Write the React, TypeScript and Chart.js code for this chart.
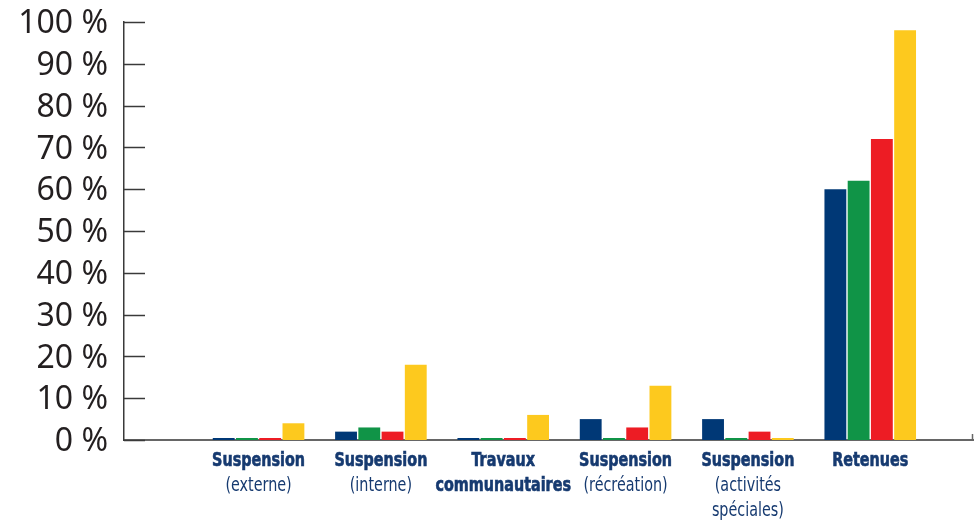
import React, { useEffect, useRef } from "react";
import { Chart, registerables } from "chart.js";

Chart.register(...registerables);

const CATEGORY_LINES: string[][] = [
  ["Suspension", "(externe)"],
  ["Suspension", "(interne)"],
  ["Travaux", "communautaires"],
  ["Suspension", "(récréation)"],
  ["Suspension", "(activités", "spéciales)"],
  ["Retenues"],
];
const BOLD_LINE_COUNT = [1, 1, 2, 1, 1, 1];

const SERIES_NAMES = ["Série 1", "Série 2", "Série 3", "Série 4"];
const SERIES_BLUE = [0, 2, 0, 5, 5, 60];
const SERIES_GREEN = [0, 3, 0, 0, 0, 62];
const SERIES_RED = [0, 2, 0, 3, 2, 72];
const SERIES_YELLOW = [4, 18, 6, 13, 0, 98];
const SERIES_COLORS = ["#003876", "#109447", "#ed1c24", "#fdc91e"];

const Y_TICKS = [0, 10, 20, 30, 40, 50, 60, 70, 80, 90, 100];

const LABEL_FONT = '"DejaVu Sans Condensed", "DejaVu Sans", sans-serif';
const LABEL_SQUEEZE = 0.84;

const decorPlugin = {
  id: "decor",
  afterDraw(chart: any) {
    const { ctx, chartArea, scales } = chart;
    const y = scales.y;
    const x = scales.x;
    ctx.save();
    // inward y ticks
    ctx.strokeStyle = "#3a3a3a";
    ctx.lineWidth = 1.5;
    for (const t of Y_TICKS) {
      const py = Math.round(y.getPixelForValue(t)) + 0.5;
      ctx.beginPath();
      ctx.moveTo(chartArea.left, py);
      ctx.lineTo(chartArea.left + 21, py);
      ctx.stroke();
    }
    // small tick at right end of x axis
    ctx.strokeStyle = "#666";
    ctx.beginPath();
    ctx.moveTo(chartArea.right - 0.5, chartArea.bottom);
    ctx.lineTo(chartArea.right - 0.5, chartArea.bottom - 6);
    ctx.stroke();

    // category labels
    ctx.fillStyle = "#163a70";
    ctx.strokeStyle = "#163a70";
    ctx.textAlign = "center";
    ctx.textBaseline = "alphabetic";
    CATEGORY_LINES.forEach((lines, i) => {
      const cx = x.getPixelForValue(i + 1);
      lines.forEach((line, j) => {
        const bold = j < BOLD_LINE_COUNT[i];
        ctx.save();
        ctx.font = `${bold ? "bold " : ""}19px ${LABEL_FONT}`;
        ctx.translate(cx, chartArea.bottom + 26 + j * 25);
        ctx.scale(LABEL_SQUEEZE, 1);
        ctx.fillText(line, 0, 0);
        if (bold) {
          ctx.lineWidth = 0.6;
          ctx.strokeText(line, 0, 0);
        }
        ctx.restore();
      });
    });
    ctx.restore();
  },
};

export default function App() {
  const canvasRef = useRef<HTMLCanvasElement | null>(null);

  useEffect(() => {
    if (!canvasRef.current) return;
    const seriesValues = [SERIES_BLUE, SERIES_GREEN, SERIES_RED, SERIES_YELLOW];
    const chart = new Chart(canvasRef.current, {
      type: "bar",
      data: {
        datasets: seriesValues.map((vals, s) => ({
          label: SERIES_NAMES[s],
          data: vals.map((v, i) => ({ x: i + 1, y: v })),
          backgroundColor: SERIES_COLORS[s],
          borderWidth: 0,
          minBarLength: 2,
          categoryPercentage: 0.76,
          barPercentage: 0.94,
        })),
      },
      options: {
        animation: false,
        responsive: true,
        maintainAspectRatio: false,
        layout: { padding: { top: 22, right: 1, left: 0, bottom: 0 } },
        plugins: {
          legend: { display: false },
          tooltip: { enabled: false },
        },
        scales: {
          x: {
            type: "linear",
            offset: false,
            min: -0.1,
            max: 6.84,
            grid: { display: false, drawTicks: false },
            border: { display: true, color: "#666", width: 2 },
            ticks: { display: false },
            afterBuildTicks: (scale: any) => {
              scale.ticks = CATEGORY_LINES.map((_, i) => ({ value: i + 1 }));
            },
            afterFit: (scale: any) => {
              scale.height = 82;
              scale.paddingLeft = 0;
              scale.paddingRight = 0;
              scale.paddingTop = 0;
              scale.paddingBottom = 0;
            },
          },
          y: {
            min: 0,
            max: 100,
            grid: { display: false, drawTicks: false },
            border: { display: true, color: "#3a3a3a", width: 1.5 },
            ticks: {
              stepSize: 10,
              padding: 16,
              labelOffset: 2,
              color: "#231f20",
              font: { family: '"Noto Sans", "Open Sans", sans-serif', size: 32 },
              callback: (v: any) => `${v} %`,
            },
            afterFit: (scale: any) => {
              scale.width = 124;
              scale.paddingLeft = 0;
              scale.paddingRight = 0;
              scale.paddingTop = 0;
              scale.paddingBottom = 0;
            },
          },
        },
      },
      plugins: [decorPlugin],
    });
    return () => chart.destroy();
  }, []);

  return (
    <div style={{ position: "fixed", left: 0, top: 0, width: 974, height: 522, background: "#fff" }}>
      <canvas ref={canvasRef} />
    </div>
  );
}
